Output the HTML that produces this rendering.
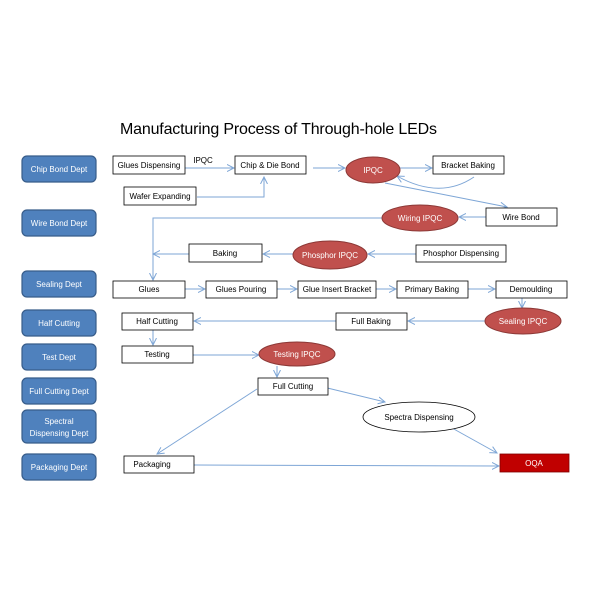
<!DOCTYPE html>
<html><head><meta charset="utf-8"><style>
html,body{margin:0;padding:0;background:#fff}
svg{display:block}
text{font-family:"Liberation Sans",sans-serif;font-size:8px;fill:#000}
.d{fill:#4f81bd;stroke:#385d8a;stroke-width:1.2}
.dt{fill:#fff;font-size:8px}
.b{fill:#fff;stroke:#000;stroke-width:0.8}
.e{fill:#c0504d;stroke:#8c3836;stroke-width:1}
.et{fill:#fff}
.l{stroke:#7ea6d6;stroke-width:1;fill:none}
</style></head><body>
<svg width="600" height="600" viewBox="0 0 600 600" xmlns="http://www.w3.org/2000/svg">
<defs><marker id="a" markerWidth="8" markerHeight="8" refX="7" refY="4" orient="auto" markerUnits="userSpaceOnUse"><path d="M0,0.5 L7,4 L0,7.5" fill="none" stroke="#7ea6d6" stroke-width="1"/></marker></defs>
<text x="120" y="134" font-size="16" textLength="317" style="font-size:16px">Manufacturing Process of Through-hole LEDs</text>

<g text-anchor="middle">
<rect class="d" x="22" y="156" width="74" height="26" rx="5"/><text class="dt" x="59" y="172">Chip Bond Dept</text>
<rect class="d" x="22" y="210" width="74" height="26" rx="5"/><text class="dt" x="59" y="226">Wire Bond Dept</text>
<rect class="d" x="22" y="271" width="74" height="26" rx="5"/><text class="dt" x="59" y="287">Sealing Dept</text>
<rect class="d" x="22" y="310" width="74" height="26" rx="5"/><text class="dt" x="59" y="326">Half Cutting</text>
<rect class="d" x="22" y="344" width="74" height="26" rx="5"/><text class="dt" x="59" y="360">Test Dept</text>
<rect class="d" x="22" y="378" width="74" height="26" rx="5"/><text class="dt" x="59" y="394">Full Cutting Dept</text>
<rect class="d" x="22" y="410" width="74" height="33" rx="5"/><text class="dt" x="59" y="424">Spectral</text><text class="dt" x="59" y="436">Dispensing Dept</text>
<rect class="d" x="22" y="454" width="74" height="26" rx="5"/><text class="dt" x="59" y="470">Packaging Dept</text>

<!-- connectors -->
<path class="l" d="M185,168 L234,168" marker-end="url(#a)"/>
<path class="l" d="M197,197 L264,197 L264,177" marker-end="url(#a)"/>
<path class="l" d="M313,168 L345,168" marker-end="url(#a)"/>
<path class="l" d="M400,168 L432,168" marker-end="url(#a)"/>
<path class="l" d="M474,177 Q440,200 397,176" marker-end="url(#a)"/>
<path class="l" d="M385,183 L507,207" marker-end="url(#a)"/>
<path class="l" d="M486,217 L459,217" marker-end="url(#a)"/>
<path class="l" d="M382,218 L153,218 L153,280" marker-end="url(#a)"/>
<path class="l" d="M416,254 L368,254" marker-end="url(#a)"/>
<path class="l" d="M293,254 L263,254" marker-end="url(#a)"/>
<path class="l" d="M189,254 L153,254"  marker-end="url(#a)"/>
<path class="l" d="M185,289 L205,289" marker-end="url(#a)"/>
<path class="l" d="M277,289 L297,289" marker-end="url(#a)"/>
<path class="l" d="M376,289 L396,289" marker-end="url(#a)"/>
<path class="l" d="M468,289 L495,289" marker-end="url(#a)"/>
<path class="l" d="M522,298 L522,308" marker-end="url(#a)"/>
<path class="l" d="M485,321 L408,321" marker-end="url(#a)"/>
<path class="l" d="M336,321 L194,321" marker-end="url(#a)"/>
<path class="l" d="M153,330 L153,345" marker-end="url(#a)"/>
<path class="l" d="M193,355 L259,355" marker-end="url(#a)"/>
<path class="l" d="M277,366 L277,377" marker-end="url(#a)"/>
<path class="l" d="M315,385 L385,402" marker-end="url(#a)"/>
<path class="l" d="M443,423 L497,453" marker-end="url(#a)"/>
<path class="l" d="M257,389 L157,454" marker-end="url(#a)"/>
<path class="l" d="M194,465 L499,466" marker-end="url(#a)"/>

<!-- boxes -->
<rect class="b" x="113" y="156" width="72" height="18"/><text x="149" y="168">Glues Dispensing</text>
<text x="203" y="163">IPQC</text>
<rect class="b" x="235" y="156" width="71" height="18"/><text x="270" y="168">Chip &amp; Die Bond</text>
<rect class="b" x="124" y="187" width="72" height="18"/><text x="160" y="199">Wafer Expanding</text>
<ellipse class="e" cx="373" cy="170" rx="27" ry="13"/><text class="et" x="373" y="173">IPQC</text>
<rect class="b" x="433" y="156" width="71" height="18"/><text x="468" y="168">Bracket Baking</text>
<rect class="b" x="486" y="208" width="71" height="18"/><text x="521" y="220">Wire Bond</text>
<ellipse class="e" cx="420" cy="218" rx="38" ry="13"/><text class="et" x="420" y="221">Wiring IPQC</text>
<rect class="b" x="189" y="244" width="73" height="18"/><text x="225" y="256">Baking</text>
<ellipse class="e" cx="330" cy="255" rx="37" ry="14"/><text class="et" x="330" y="258">Phosphor IPQC</text>
<rect class="b" x="416" y="245" width="90" height="17"/><text x="461" y="256">Phosphor Dispensing</text>
<rect class="b" x="113" y="281" width="72" height="17"/><text x="149" y="292">Glues</text>
<rect class="b" x="206" y="281" width="71" height="17"/><text x="241" y="292">Glues Pouring</text>
<rect class="b" x="298" y="281" width="78" height="17"/><text x="337" y="292">Glue Insert Bracket</text>
<rect class="b" x="397" y="281" width="71" height="17"/><text x="432" y="292">Primary Baking</text>
<rect class="b" x="496" y="281" width="71" height="17"/><text x="531" y="292">Demoulding</text>
<rect class="b" x="122" y="313" width="71" height="17"/><text x="157" y="324">Half Cutting</text>
<rect class="b" x="336" y="313" width="71" height="17"/><text x="371" y="324">Full Baking</text>
<ellipse class="e" cx="523" cy="321" rx="38" ry="13"/><text class="et" x="523" y="324">Sealing IPQC</text>
<rect class="b" x="122" y="346" width="71" height="17"/><text x="157" y="357">Testing</text>
<ellipse class="e" cx="297" cy="354" rx="38" ry="12"/><text class="et" x="297" y="357">Testing IPQC</text>
<rect class="b" x="258" y="378" width="70" height="17"/><text x="293" y="389">Full Cutting</text>
<ellipse cx="419" cy="417" rx="56" ry="15" fill="#fff" stroke="#000" stroke-width="0.8"/><text x="419" y="420">Spectra Dispensing</text>
<rect class="b" x="124" y="456" width="70" height="17"/><text x="152" y="467">Packaging</text>
<rect x="500" y="454" width="69" height="18" fill="#c00000" stroke="#800000" stroke-width="0.8"/><text class="et" x="534" y="466">OQA</text>
</g>
</svg>
</body></html>
